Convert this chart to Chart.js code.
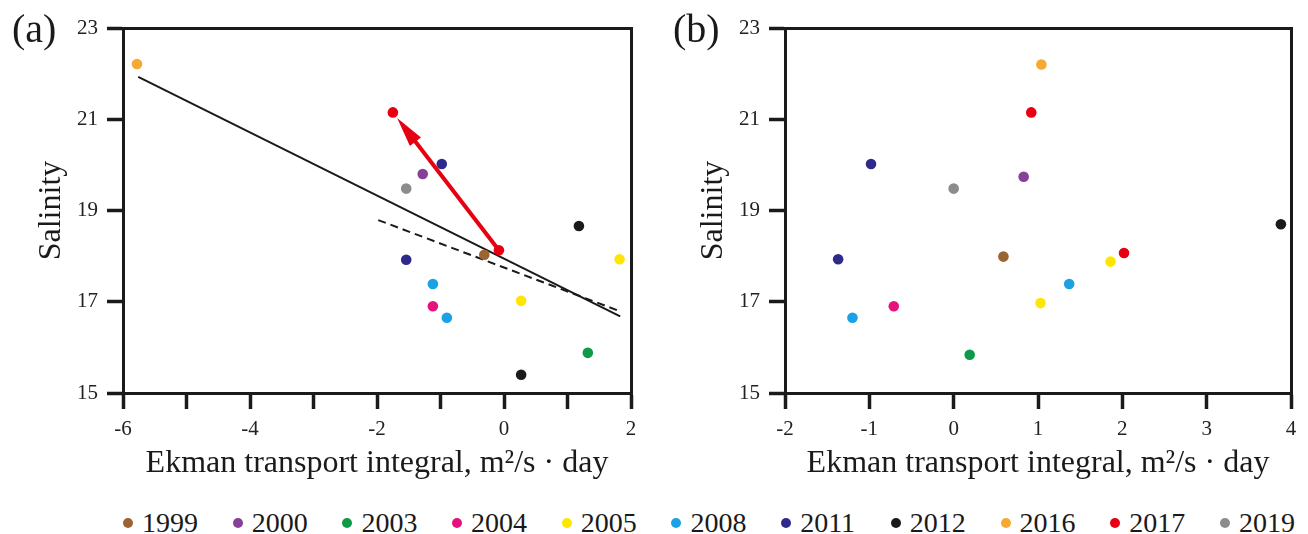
<!DOCTYPE html>
<html>
<head>
<meta charset="utf-8">
<script src="https://cdn.jsdelivr.net/npm/chart.js@4/dist/chart.umd.min.js"></script>
<style>
    body { margin: 0; background: #fff; width: 1308px; height: 534px; overflow: hidden; position: relative;
           font-family: "Liberation Serif", "Times New Roman", serif; color: #1a1a1a; }
    .panel { position: absolute; top: 0; height: 490px; }
    #wrapA { left: 0; width: 650px; }
    #wrapB { left: 662px; width: 646px; }
    .tag { position: absolute; top: 9px; font-size: 40px; line-height: 1; }
    #legend { position: absolute; left: 123px; top: 506px; display: flex; font-size: 28px; line-height: 34px; }
    .item { width: 109.7px; display: flex; align-items: center; }
    .dot { width: 10px; height: 10px; border-radius: 50%; margin-right: 9px; }
</style>
</head>
<body>
<div class="panel" id="wrapA"><canvas id="chartA"></canvas></div>
<div class="panel" id="wrapB"><canvas id="chartB"></canvas></div>
<div class="tag" style="left:12px">(a)</div>
<div class="tag" style="left:673px">(b)</div>
<div id="legend"></div>
<script>
const years = ["1999", "2000", "2003", "2004", "2005", "2008", "2011", "2012", "2016", "2017", "2019"];
const yearColors = ["#9b6433", "#883f98", "#0e9a48", "#e5127d", "#ffe600", "#1ba2e5", "#2e2a8c", "#1a1a1a", "#f6a933", "#e60012", "#8c8c8c"];

// panel (a): Ekman transport integral vs salinity
const yearA     = ["2016", "2017", "2011", "2000", "2019", "2012", "2017", "1999", "2011", "2005", "2008", "2005", "2004", "2008", "2003", "2012"];
const ekmanA    = [-5.78, -1.75, -0.98, -1.28, -1.54, 1.18, -0.08, -0.31, -1.54, 1.82, -1.12, 0.27, -1.12, -0.90, 1.32, 0.27];
const salinityA = [22.21, 21.15, 20.02, 19.80, 19.48, 18.66, 18.13, 18.03, 17.92, 17.93, 17.39, 17.02, 16.90, 16.65, 15.88, 15.40];

// regression lines and arrow (2017 shift) in panel (a)
const trendSolidX = [-5.76, 1.83];
const trendSolidY = [21.93, 16.68];
const trendDashX = [-1.98, 1.83];
const trendDashY = [18.79, 16.79];
const arrowX = [-0.08, -1.75];
const arrowY = [18.13, 21.15];

// panel (b)
const yearB     = ["2016", "2017", "2011", "2000", "2019", "2012", "2017", "1999", "2011", "2005", "2008", "2005", "2004", "2008", "2003"];
const ekmanB    = [1.04, 0.92, -0.98, 0.83, 0.00, 3.88, 2.02, 0.59, -1.37, 1.86, 1.37, 1.03, -0.71, -1.20, 0.19];
const salinityB = [22.20, 21.15, 20.02, 19.74, 19.48, 18.70, 18.07, 17.99, 17.93, 17.88, 17.39, 16.97, 16.90, 16.65, 15.84];

const xLabelsA = [-6, -4, -2, 0, 2];
const xLabelsB = [-2, -1, 0, 1, 2, 3, 4];

const serif = "'Liberation Serif', 'Times New Roman', serif";
const ink = "#1a1a1a";

function pointSets(yrs, xs, ys) {
    return years.map((yr, i) => ({
        type: "scatter",
        label: yr,
        data: xs.map((x, k) => ({ x: x, y: ys[k], yr: yrs[k] })).filter(p => p.yr === yr),
        backgroundColor: yearColors[i],
        borderWidth: 0,
        pointRadius: 5.3,
        pointHoverRadius: 5.3,
        xAxisID: "x",
        yAxisID: "y",
        clip: false,
    })).filter(d => d.data.length);
}

function lineSet(xs, ys, dash) {
    return {
        type: "line",
        data: xs.map((x, i) => ({ x: x, y: ys[i] })),
        borderColor: ink,
        borderWidth: 2,
        borderDash: dash,
        pointRadius: 0,
        fill: false,
        order: 2,
        xAxisID: "x",
        yAxisID: "y",
    };
}

function scalesFor(xMin, xMax, xLabels, rightW) {
    return {
        x: {
            type: "linear", position: "bottom", min: xMin, max: xMax,
            ticks: {
                stepSize: 1, autoSkip: false, maxRotation: 0, padding: 8, color: "#222",
                font: { family: serif, size: 21 },
                callback: v => xLabels.includes(v) ? String(v) : "",
            },
            grid: { drawOnChartArea: false, color: ink, lineWidth: 3, tickLength: 16, tickWidth: 3.5, tickColor: ink },
            border: { color: ink, width: 3 },
            title: {
                display: true, text: "Ekman transport integral, m²/s · day", color: ink,
                font: { family: serif, size: 32 }, padding: { top: 0, bottom: 7 },
            },
            afterFit: s => { s.height = 97; },
        },
        y: {
            type: "linear", position: "left", min: 15, max: 23,
            ticks: { stepSize: 2, padding: 9, color: "#222", font: { family: serif, size: 21 } },
            grid: { drawOnChartArea: false, color: ink, lineWidth: 3, tickLength: 16, tickWidth: 3.5, tickColor: ink },
            border: { color: ink, width: 3 },
            title: {
                display: true, text: "Salinity", color: ink,
                font: { family: serif, size: 32 }, padding: { top: 32, bottom: 0 },
            },
            afterFit: s => { s.width = 123; },
        },
        x2: {
            type: "linear", position: "top", min: 0, max: 1,
            ticks: { display: false }, grid: { display: false, drawTicks: false },
            border: { color: ink, width: 3 },
            afterFit: s => { s.height = 28; },
        },
        y2: {
            type: "linear", position: "right", min: 0, max: 1,
            ticks: { display: false }, grid: { display: false, drawTicks: false },
            border: { color: ink, width: 3 },
            afterFit: s => { s.width = rightW; },
        },
    };
}

const arrowPlugin = {
    id: "arrow",
    beforeDatasetsDraw(chart) {
        const { ctx } = chart;
        const xs = chart.scales.x, ys = chart.scales.y;
        const x0 = xs.getPixelForValue(arrowX[0]), y0 = ys.getPixelForValue(arrowY[0]);
        const x1 = xs.getPixelForValue(arrowX[1]), y1 = ys.getPixelForValue(arrowY[1]);
        const ang = Math.atan2(y1 - y0, x1 - x0);
        const c = Math.cos(ang), s = Math.sin(ang);
        const tipX = x1 - 7 * c, tipY = y1 - 7 * s;
        const head = 30, half = 7;
        const bx = tipX - head * c, by = tipY - head * s;
        ctx.save();
        ctx.strokeStyle = "#e60012";
        ctx.fillStyle = "#e60012";
        ctx.lineWidth = 4;
        ctx.beginPath();
        ctx.moveTo(x0, y0);
        ctx.lineTo(bx + 4 * c, by + 4 * s);
        ctx.stroke();
        ctx.beginPath();
        ctx.moveTo(tipX, tipY);
        ctx.lineTo(bx - half * s, by + half * c);
        ctx.lineTo(bx + half * s, by - half * c);
        ctx.closePath();
        ctx.fill();
        ctx.restore();
    },
};

const common = {
    responsive: true,
    maintainAspectRatio: false,
    animation: false,
    layout: { padding: 0 },
    plugins: { legend: { display: false }, tooltip: { enabled: false } },
    events: [],
};

new Chart(document.getElementById("chartA"), {
    type: "scatter",
    data: {
        datasets: pointSets(yearA, ekmanA, salinityA).concat([
            lineSet(trendSolidX, trendSolidY, []),
            lineSet(trendDashX, trendDashY, [8, 5]),
        ]),
    },
    options: Object.assign({}, common, { scales: scalesFor(-6, 2, xLabelsA, 19) }),
    plugins: [arrowPlugin],
});

new Chart(document.getElementById("chartB"), {
    type: "scatter",
    data: { datasets: pointSets(yearB, ekmanB, salinityB) },
    options: Object.assign({}, common, { scales: scalesFor(-2, 4, xLabelsB, 17) }),
});

// shared legend under both panels
const legend = document.getElementById("legend");
years.forEach((yr, i) => {
    const item = document.createElement("div");
    item.className = "item";
    const dot = document.createElement("span");
    dot.className = "dot";
    dot.style.background = yearColors[i];
    const txt = document.createElement("span");
    txt.textContent = yr;
    item.appendChild(dot);
    item.appendChild(txt);
    legend.appendChild(item);
});
</script>
</body>
</html>
